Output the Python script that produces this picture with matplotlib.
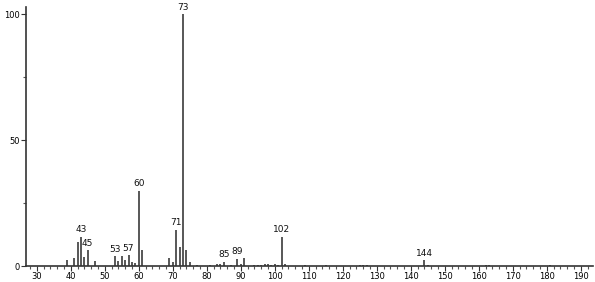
import matplotlib.pyplot as plt
from matplotlib.ticker import MultipleLocator

# m/z values and relative intensities
mz = [39, 41, 42, 43, 44, 45, 47, 53, 54, 55, 56, 57, 58, 59, 60, 61,
      69, 70, 71, 72, 73, 74, 75, 77, 81, 83, 84, 85, 87, 89, 90, 91,
      94, 95, 96, 97, 98, 99, 100, 101, 102, 103, 109, 115, 125, 126, 127,
      144, 145, 162, 163, 181]
intensity = [2.4, 3.3, 9.6, 11.6, 3.7, 6.2, 2.0, 3.8, 2.0, 3.8, 2.4, 4.3, 1.7, 1.1, 29.9, 6.4,
             3.2, 1.7, 14.3, 7.6, 100, 6.4, 1.6, 0.5, 0.5, 0.7, 0.7, 1.6, 0.5, 2.9, 0.8, 3.0,
             0.5, 0.5, 0.5, 0.9, 0.6, 0.5, 0.6, 0.5, 11.6, 0.9, 0.5, 0.5, 0.4, 0.5, 0.4,
             2.2, 0.4, 0.4, 0.4, 0.4]
labelled = [43, 45, 53, 57, 60, 71, 73, 85, 89, 102, 144]

fig = plt.figure(figsize=(5.95, 2.82), dpi=100)
ax = fig.add_axes([26 / 595, 16 / 282, 567 / 595, 259 / 282])

ax.vlines(mz, 0, intensity, color='#4a4a4a', linewidth=1.3)

for m, h in zip(mz, intensity):
    if m in labelled:
        ax.text(m, h + 1.0, str(m), ha='center', va='bottom', fontsize=6.5, color='#111111')

ax.set_xlim(26.85, 193.6)
ax.set_ylim(0, 102.8)

ax.xaxis.set_major_locator(MultipleLocator(10))
ax.xaxis.set_minor_locator(MultipleLocator(2))
ax.yaxis.set_major_locator(MultipleLocator(50))
ax.yaxis.set_minor_locator(MultipleLocator(25))

ax.spines['top'].set_visible(False)
ax.spines['right'].set_visible(False)
for s in ['left', 'bottom']:
    ax.spines[s].set_color('#333333')
    ax.spines[s].set_linewidth(1.2)

ax.tick_params(axis='both', which='major', length=3.5, width=0.8, labelsize=6, pad=1, color='#333333')
ax.tick_params(axis='both', which='minor', length=2, width=0.8, color='#555555')

plt.savefig('out.png', dpi=100)
